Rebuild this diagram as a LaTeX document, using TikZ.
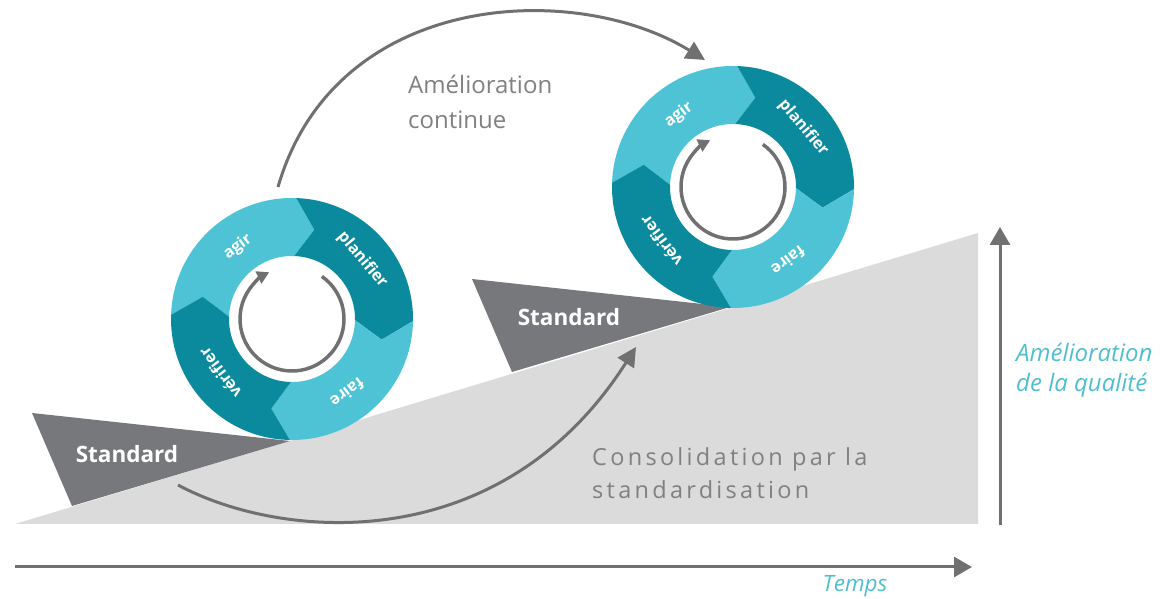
\documentclass[tikz,border=0pt]{standalone}
\usepackage{fontspec}
\setmainfont{Open Sans}
\newfontfamily\trackedfont[LetterSpace=14]{Open Sans}
\usetikzlibrary{arrows.meta,calc}

\definecolor{ringlight}{RGB}{78,195,214}
\definecolor{ringdark}{RGB}{11,138,158}
\definecolor{wedgegray}{RGB}{119,120,123}
\definecolor{rampgray}{RGB}{219,219,219}
\definecolor{arrowgray}{RGB}{112,112,112}
\definecolor{textgray}{RGB}{128,128,128}
\definecolor{tealtext}{RGB}{79,190,207}

\tikzset{
  flow/.style={draw=arrowgray, line width=3pt, -{Triangle[length=19pt,width=19pt]}},
  axis/.style={draw=arrowgray, line width=3pt, -{Triangle[length=18pt,width=20pt]}},
  cyclearrow/.style={draw=arrowgray, line width=3.5pt, -{Triangle[length=12pt,width=13pt]}},
  seglabel/.style={text=white, font=\bfseries\fontsize{16}{16}\selectfont, inner sep=0pt},
  stdlabel/.style={text=white, font=\bfseries\fontsize{22.5}{22.5}\selectfont, inner sep=0pt},
  caption/.style={anchor=west, align=left, inner sep=0pt},
  pdca/.pic={
    \def\ringout{121pt}\def\ringin{63pt}\def\ringmid{92pt}
    % four chevron segments of the ring, each pointing clockwise into the next
    \foreach \a/\b/\col in {178/88/ringlight, 88/-1/ringdark, -1/-91/ringlight, -91/-182/ringdark}{
      \fill[\col] (\a:\ringout) arc[start angle=\a, end angle=\b, radius=\ringout]
        -- (\b-12:\ringmid) -- (\b:\ringin)
        arc[start angle=\b, end angle=\a, radius=\ringin]
        -- (\a-12:\ringmid) -- cycle;
    }
    % clockwise cycle arrow in the hub
    \draw[cyclearrow] (55:52pt) arc[start angle=55, end angle=-244, radius=52pt];
    \node[seglabel, rotate=37]   (-agir)   at (127:90pt) {agir};
    \node[seglabel, rotate=-50]  (-plan)   at (40:92pt)  {planifier};
    \node[seglabel, rotate=-143] (-faire)  at (-53:92pt) {faire};
    \node[seglabel, rotate=127]  (-verif)  at (217:90pt) {vérifier};
  }
}

\begin{document}
\begin{tikzpicture}[x=1pt,y=1pt]
\useasboundingbox (0,0) rectangle (1168,599);

% rising quality ramp
\fill[rampgray] (15,75) -- (978,75) -- (978,366) -- cycle;

% standard wedges holding the level
\fill[wedgegray] (32,186) -- (72,93) -- (290,158) -- cycle;
\fill[wedgegray] (472,320) -- (512,227) -- (730,292) -- cycle;
\node[stdlabel] (std1) at (127,145) {Standard};
\node[stdlabel] (std2) at (569,282) {Standard};

% PDCA wheels
\pic (c1) at (292,280) {pdca};
\pic (c2) at (733,412) {pdca};

% continuous improvement jump
\coordinate (impFrom) at (278,412);
\coordinate (impTo) at (705,539);
\draw[flow] (impFrom) .. controls (335,609) and (575,619) .. (impTo);

% consolidation by standardisation
\coordinate (conFrom) at (178,114);
\coordinate (conTo) at (636,252);
\draw[flow] (conFrom) .. controls (280,59) and (500,39) .. (conTo);

% axes
\coordinate (tOrigin) at (15,32);
\coordinate (tEnd) at (972,32);
\draw[axis] (tOrigin) -- (tEnd);
\coordinate (qOrigin) at (1000,74);
\coordinate (qEnd) at (1000,372);
\draw[axis] (qOrigin) -- (qEnd);

% captions
\node[caption, text=textgray, font=\fontsize{24}{35}\selectfont] (amel) at (408,497) {Amélioration\\continue};
\node[caption, text=textgray, font=\trackedfont\fontsize{23.5}{33}\selectfont] (consol) at (592,126) {Consolidation par la\\standardisation};
\node[caption, text=tealtext, font=\itshape\fontsize{24}{30}\selectfont] (qual) at (1016,229) {Amélioration\\de la qualité};
\node[text=tealtext, font=\itshape\fontsize{22.5}{22.5}\selectfont, inner sep=0pt] (temps) at (855,13) {Temps};
\end{tikzpicture}
\end{document}
